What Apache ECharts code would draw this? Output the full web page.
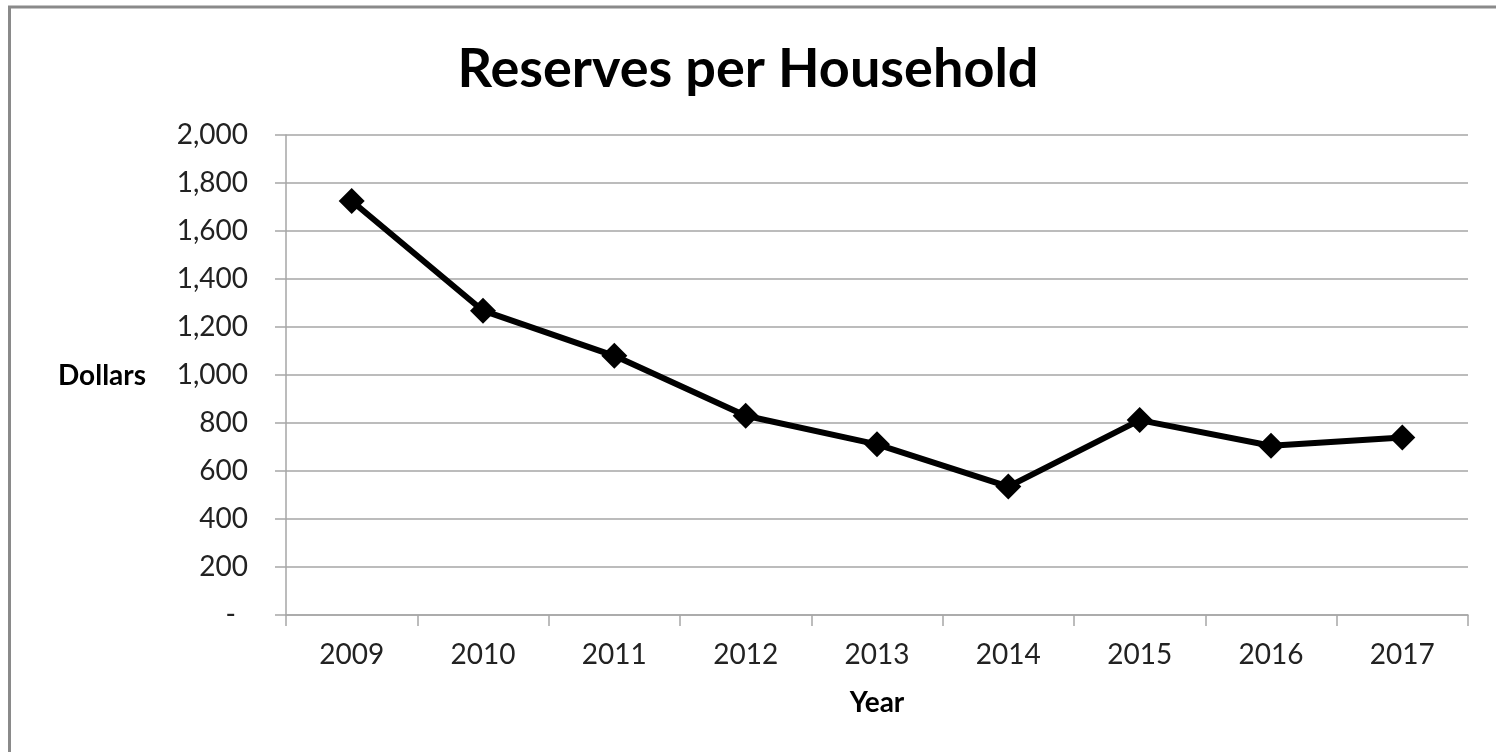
<!DOCTYPE html>
<html>
<head>
<meta charset="utf-8">
<script src="https://cdn.jsdelivr.net/npm/echarts@6/dist/echarts.min.js"></script>
<style>
  html, body { margin: 0; padding: 0; background: #fff; }
  #chart { width: 1496px; height: 752px; }
</style>
</head>
<body>
<div id="chart"></div>
<script>
// Reserves per household, in dollars, by year
const years = ['2009', '2010', '2011', '2012', '2013', '2014', '2015', '2016', '2017'];
const reserves = [1725, 1268, 1080, 830, 711, 535, 812, 705, 740];
const chartTitle = 'Reserves per Household';
const yAxisTitle = 'Dollars';
const xAxisTitle = 'Year';

const FONT = 'Lato, "Open Sans", sans-serif';
const GRID_GRAY = '#a6a6a6';

const chart = echarts.init(document.getElementById('chart'));

chart.setOption({
  animation: false,
  backgroundColor: '#ffffff',
  graphic: [{
    type: 'rect',
    shape: { x: 9.5, y: 7, width: 2000, height: 2000 },
    style: { fill: 'none', stroke: '#8a8a8a', lineWidth: 3 },
    silent: true
  }, {
    type: 'text',
    left: 58,
    top: 362,
    style: { text: yAxisTitle, font: 'bold 28px ' + FONT, fill: '#000' }
  }],
  title: {
    text: chartTitle,
    left: 'center',
    top: 38,
    textStyle: { fontFamily: FONT, fontWeight: 'bold', fontSize: 54, color: '#000' }
  },
  grid: { left: 286, right: 28, top: 135, bottom: 137 },
  xAxis: {
    type: 'category',
    data: years,
    boundaryGap: true,
    name: xAxisTitle,
    nameLocation: 'middle',
    nameGap: 74,
    nameTextStyle: { fontFamily: FONT, fontWeight: 'bold', fontSize: 28, color: '#000' },
    axisLine: { lineStyle: { color: GRID_GRAY, width: 1.5 } },
    axisTick: { show: true, length: 11, alignWithLabel: false, lineStyle: { color: GRID_GRAY, width: 1.5 } },
    axisLabel: { margin: 26, fontFamily: FONT, fontSize: 28, color: '#222' },
    splitLine: { show: false }
  },
  yAxis: {
    type: 'value',
    min: 0,
    max: 2000,
    interval: 200,
    axisLine: { show: true, lineStyle: { color: GRID_GRAY, width: 1.5 } },
    axisTick: { show: true, length: 11, lineStyle: { color: GRID_GRAY, width: 1.5 } },
    axisLabel: {
      margin: 38,
      fontFamily: FONT,
      fontSize: 28,
      color: '#222',
      formatter: function (v) {
        if (v === 0) return '{dash|-}';
        return v.toLocaleString('en-US');
      },
      rich: { dash: { fontFamily: FONT, fontSize: 28, color: '#222', padding: [0, 12, 0, 0] } }
    },
    splitLine: { show: true, lineStyle: { color: GRID_GRAY, width: 1.5 } }
  },
  series: [{
    type: 'line',
    data: reserves,
    symbol: 'diamond',
    symbolSize: 26,
    lineStyle: { color: '#000', width: 6 },
    itemStyle: { color: '#000' },
    z: 5
  }]
});
</script>
</body>
</html>
